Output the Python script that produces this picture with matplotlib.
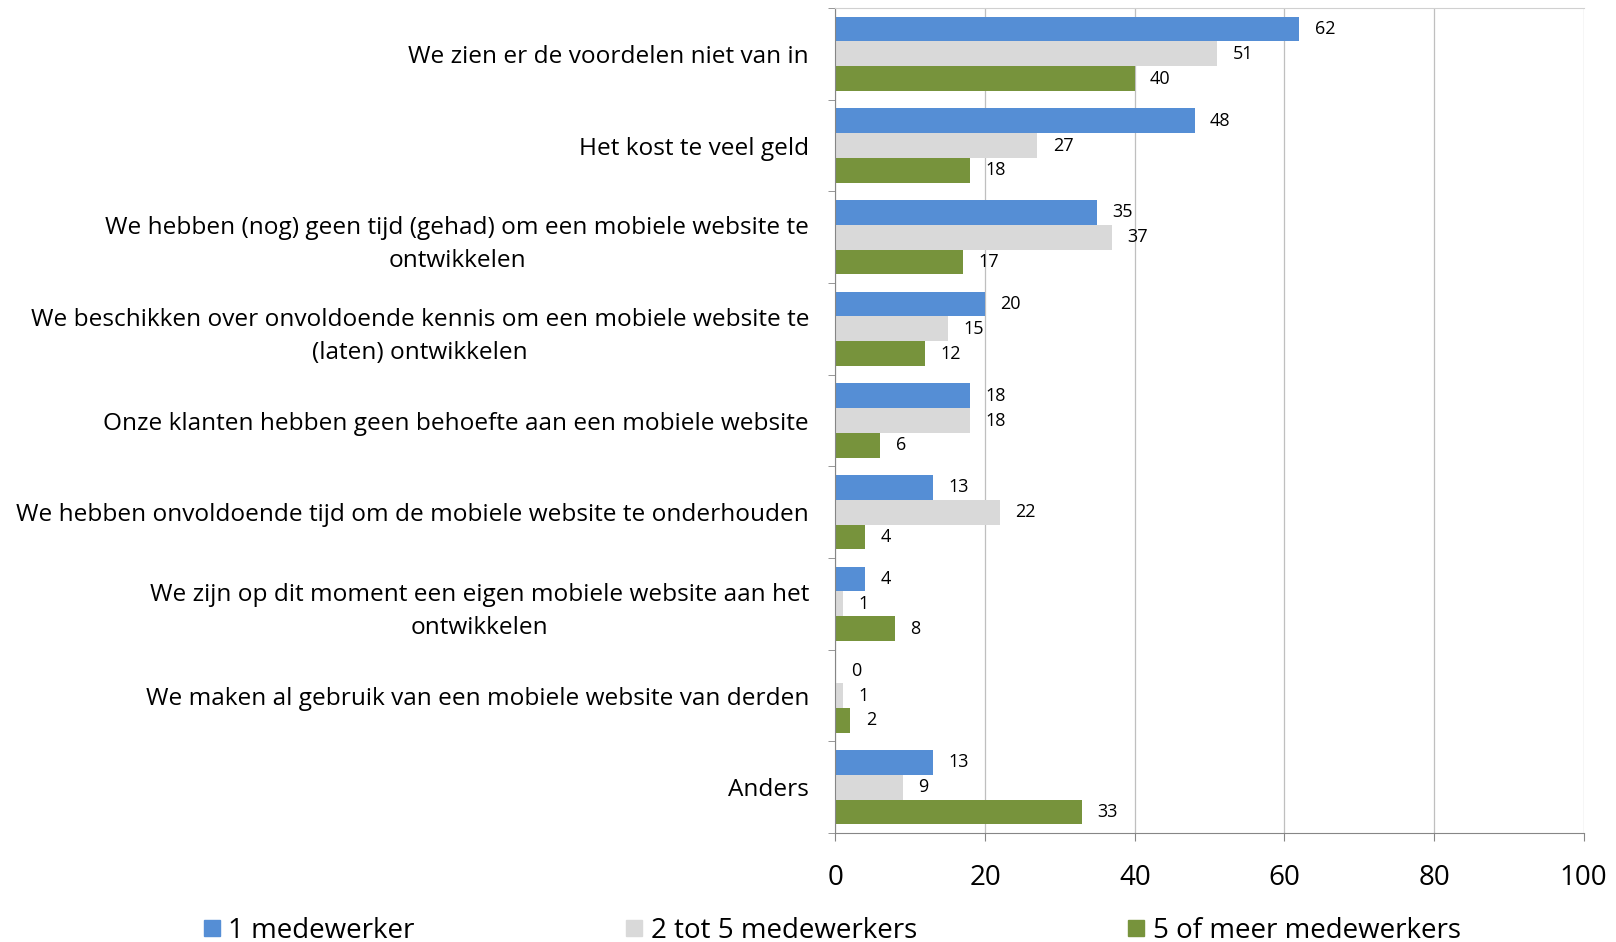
import matplotlib
matplotlib.use("Agg")
import matplotlib.pyplot as plt
from matplotlib.lines import Line2D
import numpy as np

plt.rcParams["font.family"] = ["Open Sans", "DejaVu Sans"]

categories = [
    "We zien er de voordelen niet van in",
    "Het kost te veel geld",
    "We hebben (nog) geen tijd (gehad) om een mobiele website te\nontwikkelen",
    "We beschikken over onvoldoende kennis om een mobiele website te\n(laten) ontwikkelen",
    "Onze klanten hebben geen behoefte aan een mobiele website",
    "We hebben onvoldoende tijd om de mobiele website te onderhouden",
    "We zijn op dit moment een eigen mobiele website aan het\nontwikkelen",
    "We maken al gebruik van een mobiele website van derden",
    "Anders",
]
series_names = ["1 medewerker", "2 tot 5 medewerkers", "5 of meer medewerkers"]
een = [62, 48, 35, 20, 18, 13, 4, 0, 13]
twee_tot_vijf = [51, 27, 37, 15, 18, 22, 1, 1, 9]
vijf_of_meer = [40, 18, 17, 12, 6, 4, 8, 2, 33]
xticks = [0, 20, 40, 60, 80, 100]

colors = ["#558ED5", "#D9D9D9", "#77933C"]

fig = plt.figure(figsize=(16.16, 9.42), dpi=100)
ax = fig.add_axes([0.517, 0.1157, 0.463, 0.8758])

y = np.arange(len(categories))
h = 0.27
for k, (vals, col) in enumerate(zip([een, twee_tot_vijf, vijf_of_meer], colors)):
    pos = y + (k - 1) * h
    ax.barh(pos, vals, height=h, color=col, zorder=2)
    for p, v in zip(pos, vals):
        ax.annotate(str(v), (v, p), xytext=(11, 0), textcoords="offset points",
                    ha="left", va="center", fontsize=13, color="black")

ax.set_xlim(0, 100)
ax.set_ylim(len(categories) - 0.5, -0.5)
ax.set_xticks(xticks)
ax.set_xticklabels([str(t) for t in xticks], fontsize=20)
ax.set_yticks(y)
ax.set_yticklabels(categories, fontsize=17.6, multialignment="center",
                   linespacing=1.5)
ax.set_yticks(np.arange(len(categories) + 1) - 0.5, minor=True)

ax.tick_params(axis="y", which="major", length=0, pad=19)
ax.tick_params(axis="y", which="minor", length=5, color="#868686", direction="out")
ax.tick_params(axis="x", which="major", length=6, color="#868686", pad=16)

ax.grid(axis="x", color="#BFBFBF", linewidth=0.9, zorder=0)
ax.set_axisbelow(True)
for side in ["left", "bottom"]:
    ax.spines[side].set_color("#868686")
ax.spines["right"].set_visible(False)
ax.spines["top"].set_color("#D0D0D0")

handles = [Line2D([], [], marker="s", linestyle="none", markersize=12,
                  markerfacecolor=c, markeredgecolor=c) for c in colors]
fig.legend(handles, series_names, loc="center", bbox_to_anchor=(0.515, 0.012),
           ncol=3, frameon=False, fontsize=20, handlelength=0.6,
           handletextpad=0.3, columnspacing=7.6, borderpad=0)

fig.savefig("out.png", dpi=100)
